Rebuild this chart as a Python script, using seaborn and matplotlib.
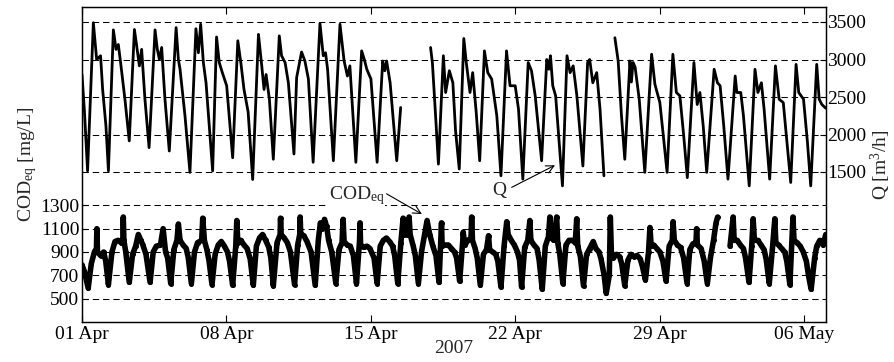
import numpy as np
import pandas as pd
import matplotlib
matplotlib.use("Agg")
import matplotlib.pyplot as plt
import matplotlib.dates as mdates
import seaborn as sns

# ---------------- data (days since 2007-04-01 00:00) ----------------
start_date = "2007-04-01"
x_tick_dates = ["2007-04-01", "2007-04-08", "2007-04-15", "2007-04-22", "2007-04-29", "2007-05-06"]
x_end_days = 36.05
cod_ticks = [500, 700, 900, 1100, 1300]
q_ticks = [1500, 2000, 2500, 3000, 3500]

# Flow Q [m3/h], three recorded segments
q_days_a = [0.00, 0.12, 0.27, 0.55, 0.71, 0.90, 1.00, 1.16, 1.28,
            1.52, 1.65, 1.76, 1.87, 2.08, 2.29,
            2.54, 2.65, 2.78, 2.89, 3.05, 3.25,
            3.54, 3.65, 3.75, 3.86, 4.02, 4.23,
            4.56, 4.67, 4.75, 4.99, 5.23,
            5.52, 5.64, 5.75, 5.88, 6.01, 6.33,
            6.52, 6.65, 6.80, 7.01, 7.30,
            7.55, 7.70, 7.85, 8.05, 8.27,
            8.55, 8.71, 8.82, 8.92, 9.08, 9.27,
            9.56, 9.67, 9.84, 10.00, 10.27,
            10.40, 10.64, 10.80, 10.97, 11.20,
            11.53, 11.69, 11.80, 11.90, 12.18,
            12.50, 12.70, 12.86, 12.98, 13.27,
            13.55, 13.68, 13.80, 14.00, 14.30,
            14.57, 14.67, 14.76, 14.93, 15.25,
            15.44]
q_vals_a = [2800, 2300, 1515, 3490, 3000, 3050, 2600, 2115, 1515,
            3395, 3135, 3200, 2960, 2470, 1915,
            3400, 3180, 2915, 3135, 2470, 1825,
            3395, 3135, 3000, 3160, 2470, 1780,
            3425, 3000, 2870, 2250, 1495,
            3410, 3090, 3470, 2960, 2690, 1515,
            3300, 2960, 2825, 2650, 1690,
            3250, 2950, 2600, 2300, 1400,
            3335, 2915, 2600, 2800, 2470, 1670,
            3315, 3050, 2960, 2690, 1740,
            2760, 3100, 2980, 2740, 1630,
            3480, 3050, 3090, 2870, 1650,
            3470, 2980, 2780, 2915, 1630,
            3115, 3000, 2870, 2740, 1630,
            2980, 2850, 2980, 2690, 1650,
            2360]
q_days_b = [16.89, 16.98, 17.10, 17.27,
            17.51, 17.62, 17.80, 17.97, 18.10, 18.28,
            18.50, 18.62, 18.80, 18.93, 19.10, 19.27,
            19.50, 19.66, 19.85, 20.10, 20.30,
            20.57, 20.74, 20.99, 21.15, 21.36,
            21.62, 21.78, 21.96, 22.27,
            22.52, 22.62, 22.70, 22.81, 22.95, 23.28,
            23.50, 23.65, 23.80, 23.98, 24.27,
            24.50, 24.60, 24.75, 24.94, 25.10, 25.29]
q_vals_b = [3160, 2950, 2400, 1605,
            3050, 2560, 2850, 2690, 2050, 1540,
            3280, 2960, 2560, 2825, 2300, 1650,
            3115, 2825, 2740, 2250, 1450,
            3115, 2650, 2650, 2340, 1405,
            2960, 2850, 2515, 1650,
            3000, 2870, 3050, 2650, 2515, 1315,
            3050, 2825, 2915, 2515, 1580,
            2960, 3000, 2690, 2825, 2340, 1450]
q_days_c = [25.82, 25.98, 26.14, 26.30,
            26.55, 26.62, 26.70, 26.80, 27.00, 27.27,
            27.60, 27.76, 28.00, 28.18, 28.35,
            28.63, 28.80, 28.97, 29.15, 29.33,
            29.65, 29.81, 29.94, 30.10, 30.27,
            30.63, 30.79, 30.92, 31.10, 31.30,
            31.65, 31.73, 31.92, 32.05, 32.33,
            32.61, 32.75, 32.92, 33.05, 33.32,
            33.60, 33.78, 33.98, 34.34,
            34.60, 34.73, 34.96, 35.15, 35.31,
            35.60, 35.72, 35.85, 36.04]
q_vals_c = [3290, 2980, 2250, 1670,
            2980, 2700, 2960, 2900, 2470, 1495,
            3070, 2670, 2425, 1950, 1495,
            3070, 2560, 2515, 2000, 1425,
            2960, 2400, 2560, 2115, 1495,
            2870, 2690, 2650, 2100, 1405,
            2780, 2560, 2560, 2250, 1315,
            2870, 2560, 2690, 2340, 1405,
            2915, 2470, 2425, 1360,
            2935, 2560, 2470, 1900, 1315,
            2935, 2470, 2400, 2350]

# Equivalent COD [mg/L], two recorded segments
cod_days_a = [0.00, 0.12, 0.30, 0.45, 0.60, 0.70, 0.72, 0.75, 0.90, 1.05, 1.15, 1.28,
              1.45, 1.60, 1.75, 1.90, 1.98, 2.00, 2.03, 2.12, 2.29,
              2.45, 2.60, 2.73, 2.85, 2.95, 3.10, 3.30,
              3.45, 3.60, 3.80, 3.93, 4.05, 4.15, 4.30,
              4.45, 4.60, 4.67, 4.75, 4.90, 5.05, 5.15, 5.30,
              5.45, 5.60, 5.80, 5.85, 5.93, 6.05, 6.15, 6.30,
              6.45, 6.60, 6.75, 6.90, 7.05, 7.15, 7.30,
              7.45, 7.50, 7.55, 7.70, 7.85, 8.00, 8.15, 8.30,
              8.45, 8.60, 8.75, 8.90, 9.05, 9.15, 9.27,
              9.45, 9.60, 9.62, 9.65, 9.80, 9.95, 10.10, 10.30,
              10.45, 10.55, 10.57, 10.60, 10.75, 10.90, 11.10, 11.30,
              11.45, 11.55, 11.65, 11.75, 11.85, 11.95, 12.10, 12.30,
              12.45, 12.60, 12.65, 12.70, 12.85, 13.00, 13.15, 13.30,
              13.45, 13.47, 13.50, 13.65, 13.80, 13.95, 14.15, 14.30,
              14.45, 14.60, 14.75, 14.90, 15.05, 15.15, 15.30,
              15.45, 15.56, 15.60, 15.75, 15.85, 15.90, 16.05, 16.15, 16.30,
              16.45, 16.60, 16.72, 16.85, 17.00, 17.15, 17.30,
              17.42, 17.45, 17.60, 17.75, 17.90, 18.05, 18.15, 18.30,
              18.45, 18.47, 18.55, 18.70, 18.85, 18.88, 18.92, 19.05, 19.15, 19.30,
              19.45, 19.60, 19.70, 19.75, 19.90, 20.05, 20.15, 20.30,
              20.45, 20.58, 20.65, 20.80, 20.95, 21.10, 21.20, 21.30,
              21.45, 21.60, 21.70, 21.75, 21.90, 22.05, 22.15, 22.30,
              22.45, 22.60, 22.67, 22.72, 22.85, 23.00, 23.05, 23.15, 23.30,
              23.45, 23.60, 23.75, 23.90, 23.97, 24.02, 24.15, 24.30,
              24.45, 24.60, 24.77, 24.90, 25.05, 25.15, 25.30, 25.40,
              25.55, 25.60, 25.65, 25.75, 25.90, 26.05, 26.15, 26.30,
              26.45, 26.60, 26.75, 26.90, 27.05, 27.15, 27.30,
              27.45, 27.52, 27.58, 27.70, 27.85, 28.00, 28.15, 28.30,
              28.45, 28.60, 28.64, 28.70, 28.85, 29.00, 29.15, 29.32,
              29.45, 29.60, 29.75, 29.78, 29.82, 30.00, 30.15, 30.30,
              30.45, 30.60, 30.72, 30.80]
cod_vals_a = [790, 730, 590, 800, 900, 930, 1100, 900, 870, 900, 820, 620,
              900, 990, 1000, 980, 1020, 1200, 1000, 900, 640,
              880, 950, 1050, 1000, 960, 880, 640,
              900, 950, 960, 1100, 900, 850, 630,
              920, 1000, 1140, 1000, 960, 930, 850, 630,
              900, 980, 1000, 1190, 1000, 920, 830, 620,
              880, 960, 990, 950, 900, 820, 615,
              950, 1170, 980, 1000, 960, 930, 840, 615,
              950, 1020, 1050, 1000, 940, 850, 610,
              980, 1050, 1190, 1050, 1020, 980, 900, 620,
              960, 1050, 1200, 1050, 1040, 990, 900, 615,
              1000, 1150, 1100, 1180, 1120, 1000, 900, 630,
              920, 980, 1180, 990, 960, 950, 870, 630,
              1000, 1150, 960, 940, 950, 930, 850, 630,
              950, 1000, 1020, 990, 950, 870, 630,
              980, 1190, 1050, 1050, 1200, 1050, 950, 870, 630,
              900, 1050, 1170, 1050, 950, 870, 640,
              1150, 950, 960, 960, 930, 900, 850, 650,
              1000, 1070, 960, 1000, 1020, 1200, 1000, 930, 850, 615,
              880, 920, 1040, 920, 900, 880, 820, 600,
              950, 1160, 1050, 1000, 960, 900, 830, 600,
              940, 1000, 1170, 1000, 960, 930, 830, 580,
              950, 1030, 1200, 1030, 1000, 1200, 980, 880, 630,
              960, 1000, 1000, 980, 1185, 950, 860, 610,
              880, 930, 990, 930, 900, 840, 700, 545,
              700, 1200, 900, 850, 880, 860, 800, 610,
              830, 880, 860, 870, 840, 780, 660,
              900, 1110, 950, 960, 930, 900, 820, 650,
              950, 1000, 1160, 1000, 960, 940, 850, 630,
              920, 970, 980, 1100, 960, 930, 820, 630,
              850, 1000, 1150, 1200]
cod_days_b = [31.40, 31.55, 31.60, 31.75, 31.90, 32.05, 32.15, 32.32,
              32.45, 32.52, 32.58, 32.75, 32.90, 33.05, 33.15, 33.30,
              33.45, 33.57, 33.62, 33.75, 33.90, 34.05, 34.15, 34.30,
              34.45, 34.50, 34.65, 34.80, 34.95, 35.10, 35.20, 35.33,
              35.50, 35.60, 35.75, 35.90, 36.04]
cod_vals_b = [950, 1200, 1000, 1000, 960, 930, 850, 640,
              950, 1185, 1000, 1000, 960, 920, 840, 630,
              920, 1185, 980, 960, 930, 900, 820, 620,
              1200, 1000, 980, 950, 900, 820, 700, 580,
              850, 950, 1000, 960, 1050]

assert len(q_days_a) == len(q_vals_a) and len(q_days_b) == len(q_vals_b) and len(q_days_c) == len(q_vals_c)
assert len(cod_days_a) == len(cod_vals_a) and len(cod_days_b) == len(cod_vals_b)

t0 = pd.Timestamp(start_date)


def to_time(days):
    return t0 + pd.to_timedelta(np.asarray(days, dtype=float), unit="D")


q_df = pd.concat([
    pd.DataFrame({"time": to_time(d), "Q": v, "seg": s})
    for s, (d, v) in enumerate([(q_days_a, q_vals_a), (q_days_b, q_vals_b), (q_days_c, q_vals_c)])
], ignore_index=True)
cod_df = pd.concat([
    pd.DataFrame({"time": to_time(d), "COD": v, "seg": s})
    for s, (d, v) in enumerate([(cod_days_a, cod_vals_a), (cod_days_b, cod_vals_b)])
], ignore_index=True)

# ---------------- style ----------------
sns.set_style("ticks")
plt.rcParams["font.family"] = ["Liberation Serif", "DejaVu Serif"]
plt.rcParams["mathtext.fontset"] = "custom"
plt.rcParams["mathtext.rm"] = "Liberation Serif"
plt.rcParams["mathtext.it"] = "Liberation Serif:italic"
plt.rcParams["lines.scale_dashes"] = False
FS = 14

fig = plt.figure(figsize=(8.94, 3.62), dpi=100)
ax = fig.add_axes([82 / 894, 40 / 362, 744 / 894, 315 / 362])
ax2 = ax.twinx()

sns.lineplot(data=cod_df, x="time", y="COD", units="seg", estimator=None, sort=False,
             color="black", lw=4.0, marker="o", markersize=3.6, markeredgewidth=0,
             legend=False, ax=ax)
sns.lineplot(data=q_df, x="time", y="Q", units="seg", estimator=None, sort=False,
             color="black", lw=2.0, legend=False, ax=ax2)

dash = (0, (4.6, 2.8))
ax.set_ylim(300, 3000)
ax.set_yticks(cod_ticks)
ax.yaxis.grid(True, linestyle=dash, color="black", lw=0.75)
ax2.set_ylim(-500, 3700)
ax2.set_yticks(q_ticks)
ax2.yaxis.grid(True, linestyle=dash, color="black", lw=0.75)

ax.set_xlim(t0, t0 + pd.Timedelta(days=x_end_days))
ax.set_xticks(pd.to_datetime(x_tick_dates))
ax.xaxis.set_major_formatter(mdates.DateFormatter("%d %b"))

for a in (ax, ax2):
    for sp in a.spines.values():
        sp.set_color("black")
        sp.set_linewidth(0.9)
ax.tick_params(axis="x", direction="in", length=5, width=0.8, top=True, labelsize=FS, pad=3, colors="black")
ax.tick_params(axis="y", direction="in", length=4, width=0.8, left=True, right=False, labelsize=FS, pad=2, colors="black")
ax2.tick_params(axis="y", direction="in", length=4, width=0.8, right=True, labelsize=FS, pad=1, colors="black")

ax.set_xlabel("2007", fontsize=FS, labelpad=-2)
ax.set_ylabel("COD$_{\\mathrm{eq}}$ [mg/L]", fontsize=FS, labelpad=1)
ax2.set_ylabel("Q [m$^3$/h]", fontsize=FS, labelpad=2)

ax.annotate("COD$_{\\mathrm{eq}}$", xy=(to_time([16.47])[0], 1225), xytext=(to_time([11.95])[0], 1385),
            ha="left", va="center", fontsize=FS,
            bbox=dict(fc="white", ec="none", pad=0.5),
            arrowprops=dict(arrowstyle="->", color="black", lw=0.8, relpos=(1.0, 0.62),
                            shrinkA=1, shrinkB=0))
ax2.annotate("Q", xy=(to_time([22.92])[0], 1590), xytext=(to_time([20.2])[0], 1256),
             ha="center", va="center", fontsize=FS,
             arrowprops=dict(arrowstyle="->", color="black", lw=0.8, relpos=(1.0, 0.5),
                             shrinkA=2, shrinkB=0))

fig.savefig("out.png", dpi=100)
